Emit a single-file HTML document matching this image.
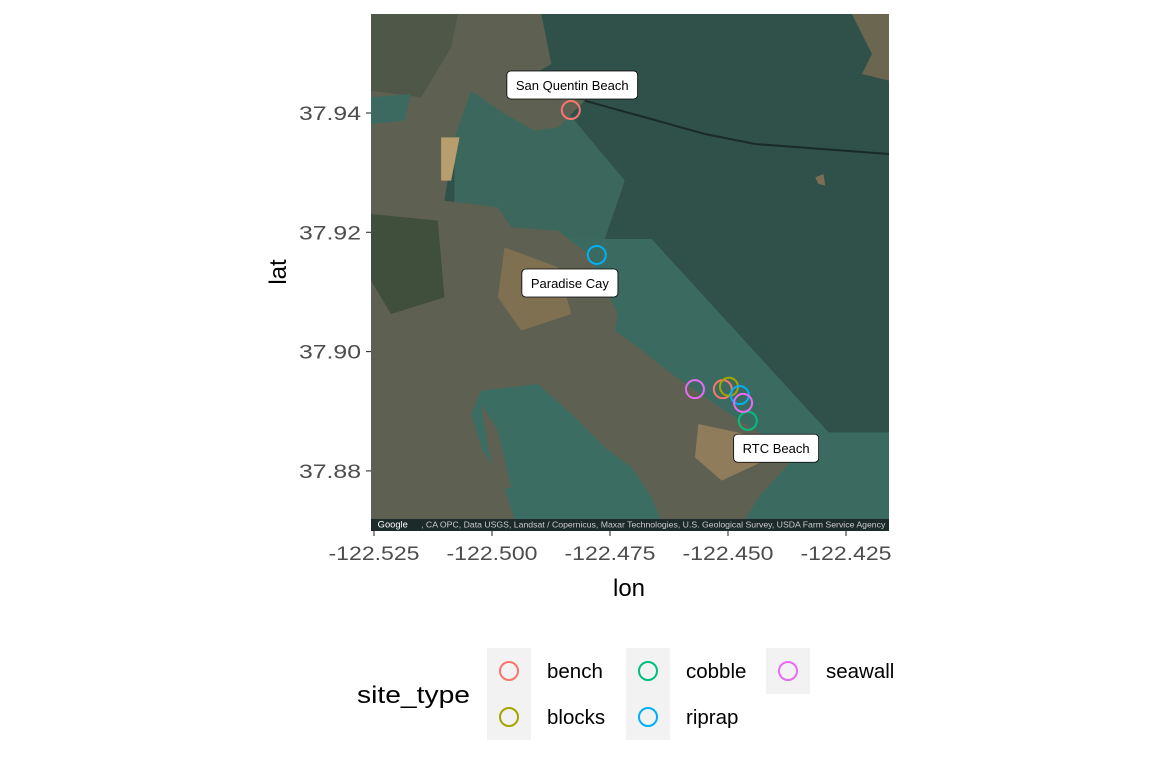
<!DOCTYPE html>
<html><head><meta charset="utf-8"><style>
body{margin:0;background:#fff;width:1152px;height:768px;overflow:hidden;font-family:"Liberation Sans",Arial,sans-serif}
</style></head><body>
<svg id="chart" width="1152" height="768" xmlns="http://www.w3.org/2000/svg">
<g>
<svg x="371" y="14" width="518" height="517" viewBox="0 0 1551 1551" preserveAspectRatio="none">
<rect width="1551" height="1551" fill="#30504a"/>
<polygon points="0,675 840,675 1370,1255 1551,1255 1551,1551 0,1551" fill="#3b6b60"/>
<polygon points="250,150 560,260 760,500 700,675 250,675" fill="#3c675d"/>
<polygon points="0,0 510,0 540,150 470,190 560,250 640,260 560,340 490,350 400,300 300,230 250,370 220,560 380,580 420,640 560,650 650,720 720,860 740,900 730,950 800,1000 900,1080 1000,1150 1120,1230 1200,1280 1250,1350 1160,1450 1100,1551 0,1551" fill="#5e6152"/>
<polygon points="0,0 260,0 240,100 150,250 0,230" fill="#4e5748"/>
<polygon points="210,370 265,370 240,500 210,500" fill="#b89e6e"/>
<polygon points="400,700 560,760 600,900 450,950 380,850" fill="#7f7052"/>
<polygon points="980,1230 1120,1260 1200,1330 1050,1400 970,1330" fill="#8e7c5a"/>
<polygon points="0,600 200,620 220,850 60,900 0,800" fill="#3f4f3c"/>
<polygon points="330,1130 500,1110 600,1200 700,1300 780,1360 840,1450 880,1551 440,1551 400,1420 330,1300 300,1200" fill="#3b6d62"/>
<polygon points="330,1170 380,1250 420,1420 380,1430 350,1300" fill="#5e6152"/>
<polygon points="1440,0 1551,0 1551,200 1470,180 1500,120" fill="#6b6650"/>
<polygon points="0,250 120,240 100,320 0,330" fill="#3d6a60"/>
<polyline points="640,260 1000,360 1150,390 1551,420" fill="none" stroke="#1a2a28" stroke-width="6"/>
<polygon points="1330,490 1355,480 1360,515 1340,510" fill="#7a6e55"/>
<rect x="0" y="1515" width="1551" height="36" fill="#1c2a2a"/>
<text x="20" y="1540" font-size="28" fill="#fff">Google</text>
<text x="150" y="1540" font-size="24" fill="#ccc" textLength="1390" lengthAdjust="spacingAndGlyphs">, CA OPC, Data USGS, Landsat / Copernicus, Maxar Technologies, U.S. Geological Survey, USDA Farm Service Agency</text>
</svg>
</g>
<g id="axes"></g>
<g id="labels"></g>
<g id="points"></g>
<text x="629" y="596" font-size="24" text-anchor="middle" fill="#000">lon</text>
<text transform="translate(286,272) rotate(-90)" font-size="24" text-anchor="middle" fill="#000">lat</text>
<g>
<text x="357" y="703" font-size="24" fill="#000" textLength="113" lengthAdjust="spacingAndGlyphs">site_type</text>
<g id="legend-keys"></g>
</g>
</svg>
<script>
const lonTicks=[-122.525,-122.500,-122.475,-122.450,-122.425];
const lonTickLabels=["-122.525","-122.500","-122.475","-122.450","-122.425"];
const latTicks=[37.88,37.90,37.92,37.94];
const latTickLabels=["37.88","37.90","37.92","37.94"];
const siteTypes=["bench","blocks","cobble","riprap","seawall"];
const typeColors=["#F8766D","#A3A500","#00BF7D","#00B0F6","#E76BF3"];
const pointLon=[-122.4833,-122.4511,-122.4498,-122.4458,-122.4778,-122.4475,-122.4570,-122.4468];
const pointLat=[37.9405,37.8937,37.8941,37.8884,37.9162,37.8927,37.8937,37.8914];
const pointType=["bench","bench","blocks","cobble","riprap","riprap","seawall","seawall"];
const labelNames=["San Quentin Beach","Paradise Cay","RTC Beach"];
const labelLon=[-122.4830,-122.4835,-122.4398];
const labelLat=[37.9447,37.9115,37.8838];

const NS="http://www.w3.org/2000/svg";
const xs=v=>374+(v+122.525)/0.025*118;
const ys=v=>113-(v-37.94)/0.02*119.3;
function mk(t,a,p){const e=document.createElementNS(NS,t);for(const k in a)e.setAttribute(k,a[k]);p.appendChild(e);return e;}
const ax=document.getElementById('axes');
lonTicks.forEach((t,i)=>{
 const l=mk('line',{x1:xs(t),x2:xs(t),y1:531,y2:536,stroke:'#333','stroke-width':1.1},ax);
 
 
 const tx=mk('text',{x:xs(t),y:560,'font-size':19.5,'text-anchor':'middle',fill:'#4d4d4d',textLength:91,lengthAdjust:'spacingAndGlyphs'},ax);
 tx.textContent=lonTickLabels[i];
 
 
});
latTicks.forEach((t,i)=>{
 const l=mk('line',{x1:366,x2:371,y1:ys(t),y2:ys(t),stroke:'#333','stroke-width':1.1},ax);
 
 
 const tx=mk('text',{x:361,y:ys(t)+7,'font-size':19.5,'text-anchor':'end',fill:'#4d4d4d',textLength:62,lengthAdjust:'spacingAndGlyphs'},ax);
 tx.textContent=latTickLabels[i];
 
 
});
const pg=document.getElementById('points');
pointLon.forEach((v,i)=>{
 const c=mk('circle',{cx:xs(v),cy:ys(pointLat[i]),r:9,fill:'none',stroke:typeColors[siteTypes.indexOf(pointType[i])],'stroke-width':2},pg);
 
 
});
const lg=document.getElementById('labels');
labelNames.forEach((n,i)=>{
 const cx=xs(labelLon[i]), cy=ys(labelLat[i]);
 const g=mk('g',{},lg);
 
 
 const r=mk('rect',{y:cy-14,height:28,rx:4,fill:'#fff',stroke:'#000','stroke-width':0.8},g);
 const t=mk('text',{x:cx,y:cy+5,'font-size':13,'text-anchor':'middle',fill:'#000'},g);
 t.textContent=n;
 const w=t.getComputedTextLength()+18;
 r.setAttribute('x',cx-w/2);r.setAttribute('width',w);
});
const lk=document.getElementById('legend-keys');
const colX=[487,626,766];
siteTypes.forEach((s,i)=>{
 const col=Math.floor(i/2),row=i%2;
 const x=colX[col],y=648+row*46;
 const g=mk('g',{},lk);
 
 
 mk('rect',{x:x,y:y,width:44,height:46,fill:'#f2f2f2'},g);
 mk('circle',{cx:x+22,cy:y+23,r:9,fill:'none',stroke:typeColors[i],'stroke-width':2},g);
 const t=mk('text',{x:x+60,y:y+30,'font-size':20.5,fill:'#000'},g);
 t.textContent=s;
});
</script>
</body></html>
